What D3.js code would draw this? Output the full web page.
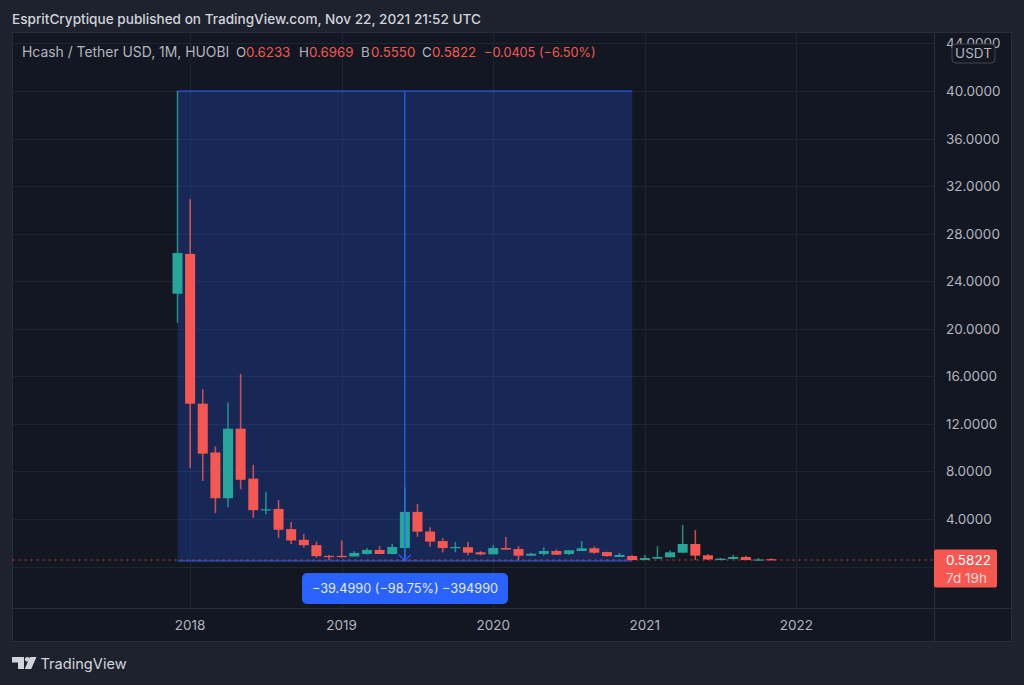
<!DOCTYPE html>
<html><head><meta charset="utf-8">
<script src="https://cdn.jsdelivr.net/npm/d3@7"></script>
<style>
html,body{margin:0;padding:0;background:#1e222d;overflow:hidden}
svg{display:block}
text{font-family:Inter,Roboto,sans-serif}
</style></head><body>
<svg id="c" width="1024" height="685"></svg>
<script>
// Monthly candles, Dec 2017 to Nov 2021 (USDT)
const opens  = [22.95,26.3,13.7,9.6,5.75,11.6,7.4,4.78,4.85,3.15,2.25,1.8,0.9,0.9,0.85,1.06,1.4,1.06,1.56,4.6,2.95,2.15,1.6,1.63,1.2,1.03,1.56,1.48,0.92,1.06,1.31,1.06,1.31,1.54,1.22,0.81,0.89,0.55,0.67,0.78,1.17,1.9,0.95,0.55,0.64,0.81,0.5,0.6233];
const highs  = [40.0,30.9,14.9,10.1,13.8,16.2,8.55,6.3,5.6,3.75,2.75,2.1,1.0,2.2,1.3,1.56,1.73,1.9,6.67,5.26,3.3,2.4,2.07,2.07,1.3,1.8,2.5,1.73,1.17,1.63,1.46,1.4,2.15,1.7,1.25,1.15,0.98,0.98,1.7,1.35,3.5,3.08,1.06,0.72,0.98,0.92,0.72,0.6969];
const lows   = [20.5,8.3,7.2,4.5,5.0,6.5,4.1,4.4,2.4,1.9,1.6,0.75,0.55,0.75,0.85,1.02,1.06,1.06,0.7,2.5,1.67,1.2,1.2,0.95,0.95,1.03,1.43,0.55,0.92,0.92,1.0,1.0,1.31,1.08,0.83,0.81,0.55,0.55,0.67,0.78,1.17,0.55,0.55,0.55,0.6,0.55,0.5,0.555];
const closes = [26.37,13.7,9.5,5.75,11.6,7.3,4.75,4.82,3.1,2.2,1.8,0.88,0.85,0.8,1.15,1.4,1.06,1.65,4.6,2.94,2.1,1.56,1.65,1.17,1.03,1.56,1.43,0.92,1.08,1.31,1.0,1.37,1.54,1.17,0.89,0.98,0.55,0.72,0.81,1.2,1.9,0.92,0.6,0.67,0.81,0.55,0.6,0.5822];
const gridPrices = [44,40,36,32,28,24,20,16,12,8,4,0];
const priceLabels = [44,40,36,32,28,24,20,16,12,8,4];
const yearLabels = ["2018","2019","2020","2021","2022"];
const yearIndex  = [1,13,25,37,49];
const rangeIndex = [0,36];
const rangeMid   = 18;
const rangePrice = [40,0.501];
const lastPrice  = 0.5822;
const titleText  = "EspritCryptique published on TradingView.com, Nov 22, 2021 21:52 UTC";
const measureText = "\u221239.4990 (\u221298.75%) \u2212394990";

const W=1024,H=685,L=12.5,T=32.5,R=1011.5,B=641.5,AX=934,AY=608.5;
const BG="#131722",LINE="#2a2e39",GRID="#1f2431",TXT="#b2b5be",UP="#26a69a",DOWN="#f65851",BLUE="#2962ff";
const x=d3.scaleLinear().domain([0,47]).range([177.5,771.1]);
const y=d3.scaleLinear().domain([0,40]).range([566.6,91]);
const svg=d3.select("#c");

svg.append("rect").attr("width",W).attr("height",H).attr("fill","#1e222d");
svg.append("text").attr("x",12).attr("y",23.5).attr("font-size",13.6).attr("font-weight",500).attr("fill","#d1d4dc").text(titleText);
svg.append("rect").attr("x",L).attr("y",T).attr("width",R-L).attr("height",B-T).attr("fill",BG).attr("stroke",LINE);

// grid
const grid=svg.append("g").attr("stroke",GRID).attr("stroke-width",1);
gridPrices.forEach(t=>grid.append("line").attr("x1",L).attr("x2",AX).attr("y1",Math.round(y(t))+.5).attr("y2",Math.round(y(t))+.5));
yearIndex.forEach(i=>grid.append("line").attr("x1",Math.round(x(i))+.5).attr("x2",Math.round(x(i))+.5).attr("y1",T).attr("y2",AY));

// measure rectangle
const rx0=x(rangeIndex[0]),rx1=x(rangeIndex[1]),ry0=y(rangePrice[0]),ry1=y(rangePrice[1]);
svg.append("rect").attr("x",rx0).attr("y",ry0).attr("width",rx1-rx0).attr("height",ry1-ry0).attr("fill",BLUE).attr("fill-opacity",.24);

const rows=d3.range(opens.length).map(i=>({i,o:opens[i],h:highs[i],l:lows[i],c:closes[i]}));
const col=d=>d.c>=d.o?UP:DOWN;
const cg=svg.append("g");
cg.selectAll("line").data(rows).join("line")
  .attr("x1",d=>x(d.i)).attr("x2",d=>x(d.i)).attr("y1",d=>y(d.h)).attr("y2",d=>y(d.l))
  .attr("stroke",col).attr("stroke-width",1.6).attr("stroke-opacity",.8);
cg.selectAll("rect").data(rows).join("rect")
  .attr("x",d=>x(d.i)-5).attr("width",10)
  .attr("y",d=>y(Math.max(d.o,d.c)))
  .attr("height",d=>Math.max(1.2,Math.abs(y(d.o)-y(d.c))))
  .attr("fill",col);

// measure outline and arrow
const m=svg.append("g").attr("stroke",BLUE).attr("fill","none").attr("stroke-width",1.2);
m.append("line").attr("x1",rx0).attr("x2",rx1).attr("y1",ry0).attr("y2",ry0);
m.append("line").attr("x1",rx0).attr("x2",rx1).attr("y1",Math.round(ry1)).attr("y2",Math.round(ry1));
const mx=x(rangeMid);
m.append("line").attr("x1",mx).attr("x2",mx).attr("y1",ry0).attr("y2",ry1);
m.append("path").attr("d",d3.line()([[mx-6,ry1-6],[mx,ry1],[mx+6,ry1-6]]));

// dotted last price line
svg.append("line").attr("x1",L).attr("x2",AX).attr("y1",Math.round(y(lastPrice))).attr("y2",Math.round(y(lastPrice)))
  .attr("stroke","#f0444a").attr("stroke-width",1).attr("stroke-dasharray","2 4").attr("stroke-opacity",.9);

// measure label
svg.append("rect").attr("x",302).attr("y",573).attr("width",206).attr("height",31).attr("rx",5).attr("fill",BLUE);
svg.append("text").attr("x",405).attr("y",593).attr("text-anchor","middle").attr("font-size",12.7).attr("fill","#e6ecff").text(measureText);

// axes frames
svg.append("line").attr("x1",AX+.5).attr("x2",AX+.5).attr("y1",T).attr("y2",B).attr("stroke",LINE).attr("stroke-width",1.2);
svg.append("line").attr("x1",L).attr("x2",R).attr("y1",AY).attr("y2",AY).attr("stroke",LINE).attr("stroke-width",1.2);

// y axis labels
const fmt=d3.format(".4f");
svg.append("g").selectAll("text").data(priceLabels).join("text")
  .attr("x",946).attr("y",d=>y(d)+5).attr("font-size",13.5).attr("fill",TXT).text(d=>fmt(d));

// x axis labels
svg.append("g").selectAll("text").data(yearLabels).join("text")
  .attr("x",(d,i)=>x(yearIndex[i])).attr("y",630).attr("text-anchor","middle").attr("font-size",13.5).attr("fill",TXT).text(d=>d);

// USDT badge
svg.append("rect").attr("x",952).attr("y",44).attr("width",43).attr("height",19).attr("rx",4).attr("fill",BG).attr("stroke","#434651");
svg.append("text").attr("x",973.5).attr("y",58).attr("text-anchor","middle").attr("font-size",13.5).attr("fill",TXT).text("USDT");

// last price tag
svg.append("rect").attr("x",934).attr("y",549.5).attr("width",63).attr("height",38).attr("rx",2).attr("fill",DOWN);
svg.append("text").attr("x",946).attr("y",565).attr("font-size",13.5).attr("fill","#fff").text(d3.format(".4f")(lastPrice));
svg.append("text").attr("x",946).attr("y",583).attr("font-size",13.5).attr("fill","#ffd9d6").text("7d 19h");

// legend
const lg=svg.append("g").attr("font-size",13.3);
[[22,"Hcash / Tether USD, 1M, HUOBI",TXT,13.9],[236,"O",TXT],[246,"0.6233",DOWN],[299,"H",TXT],[309,"0.6969",DOWN],[361,"B",TXT],[371,"0.5550",DOWN],[422,"C",TXT],[432,"0.5822",DOWN],[484,"\u22120.0405 (\u22126.50%)",DOWN,12.7]]
 .forEach(d=>lg.append("text").attr("x",d[0]).attr("y",57).attr("fill",d[2]).attr("font-size",d[3]||13.3).text(d[1]));

// TradingView logo
svg.append("path").attr("fill","#d1d4dc").attr("d","M12 657h12v12h-6v-6.5h-6zM30 657h6.5l-5.3 12h-6.5z");
svg.append("circle").attr("cx",27.3).attr("cy",659.3).attr("r",2.4).attr("fill","#d1d4dc");
svg.append("text").attr("x",40.5).attr("y",669).attr("font-size",14.6).attr("fill","#d1d4dc").text("TradingView");
</script>
</body></html>
